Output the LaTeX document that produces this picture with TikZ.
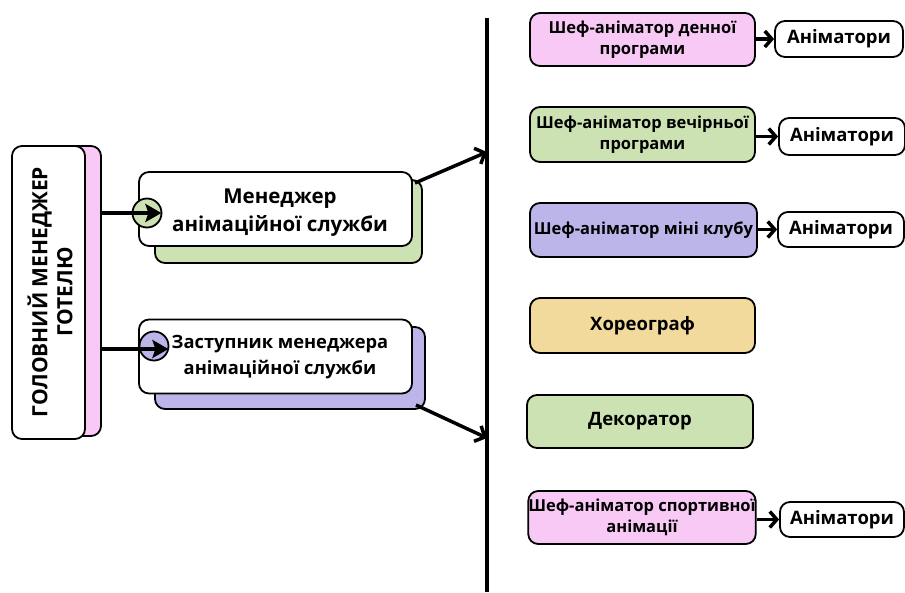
\documentclass[tikz,border=0pt]{standalone}
\usepackage{fontspec}
\setmainfont{Open Sans}[BoldFont={Open Sans Bold}]
\usetikzlibrary{arrows.meta,calc}
\definecolor{pinkc}{HTML}{F9C9F6}
\definecolor{greenc}{HTML}{CDE2B2}
\definecolor{purplec}{HTML}{BCB5E9}
\definecolor{yellowc}{HTML}{F1DA9B}
\tikzset{
  box/.style={draw=black, line width=1.8pt, rounded corners=10pt, inner sep=0pt, align=center, font=\bfseries},
  sbox/.style={box, font=\bfseries\fontsize{16.5}{21}\selectfont},
  abox/.style={box, fill=white, font=\bfseries\fontsize{18.5}{22}\selectfont},
  dot/.style={circle, draw=black, line width=1.8pt, minimum size=29pt, inner sep=0pt},
  arr/.style={line width=3.5pt, -{Stealth[length=16pt,width=18pt,inset=3pt]}},
  darr/.style={line width=3.5pt, -{Straight Barb[length=8pt,width=17pt]}},
  sarr/.style={line width=3.5pt, -{Straight Barb[length=7pt,width=16pt]}},
}
\begin{document}
\begin{tikzpicture}[x=1pt,y=-1pt]
\useasboundingbox (0,0) rectangle (905,592);
% left main box
\node[box, fill=pinkc, minimum width=71pt, minimum height=290pt] (mainsh) at (65.5,291) {};
\node[box, fill=white, minimum width=73pt, minimum height=293pt] (main) at (48.5,292.5) {};
\node[rotate=90, align=center, font=\bfseries\fontsize{21}{25}\selectfont] (maintxt) at (50,292) {ГОЛОВНИЙ МЕНЕДЖЕР\\ГОТЕЛЮ};
% manager
\node[box, fill=greenc, minimum width=267pt, minimum height=83pt] (mgrsh) at (288.5,221.5) {};
\node[box, fill=white, minimum width=273pt, minimum height=74pt] (mgr) at (275.5,209) {};
\node[font=\bfseries\fontsize{20.5}{28}\selectfont, align=center] (mgrtxt) at (280,213) {Менеджер\\анімаційної служби};
\node[dot, fill=greenc] (mc) at (147,213) {};
% deputy
\node[box, fill=purplec, minimum width=270pt, minimum height=82pt] (depsh) at (290,368) {};
\node[box, fill=white, minimum width=273pt, minimum height=74pt] (dep) at (275.5,356.5) {};
\node[font=\bfseries\fontsize{18.3}{26}\selectfont, align=center] (deptxt) at (280,357) {Заступник менеджера\\анімаційної служби};
\node[dot, fill=purplec] (pc) at (154,346) {};
% arrows from main
\draw[arr] (mainsh.east |- mc.center) -- ($(mc.east)+(-1,0)$);
\draw[arr] (mainsh.east |- 0,349) coordinate (ps) -- ($(ps -| pc.east)+(-1,0)$);
% vertical line
\coordinate (vt) at (487,18);
\coordinate (vb) at (487,592);
\draw[line width=3.5pt] (vt) -- (vb);
\coordinate (v1) at (487,152);
\coordinate (v2) at (487,438);
\coordinate (m1) at (415,183);
\coordinate (m2) at (416,405);
\draw[darr] (m1) -- (v1);
\draw[darr] (m2) -- (v2);
% right boxes
\node[sbox, fill=pinkc, minimum width=225pt, minimum height=53pt] (d1) at (642.5,39.5) {Шеф-аніматор денної\\програми};
\node[sbox, fill=greenc, minimum width=225pt, minimum height=55pt] (d2) at (642.5,134.5) {Шеф-аніматор вечірньої\\програми};
\node[sbox, fill=purplec, minimum width=227pt, minimum height=54pt] (d3) at (643.5,230) {Шеф-аніматор міні клубу};
\node[box, fill=yellowc, font=\bfseries\fontsize{18.5}{22}\selectfont, minimum width=225pt, minimum height=55pt] (d4) at (642.5,325.5) {Хореограф};
\node[box, fill=greenc, font=\bfseries\fontsize{18.5}{22}\selectfont, minimum width=226pt, minimum height=53pt] (d5) at (640,421.5) {Декоратор};
\node[sbox, fill=pinkc, minimum width=226pt, minimum height=53pt] (d6) at (642,517.5) {Шеф-аніматор спортивної\\анімації};
\node[abox, minimum width=128pt, minimum height=36pt] (a1) at (839,39) {Аніматори};
\node[abox, minimum width=126pt, minimum height=37pt] (a2) at (842,136.5) {Аніматори};
\node[abox, minimum width=126pt, minimum height=35pt] (a3) at (841,229.5) {Аніматори};
\node[abox, minimum width=124pt, minimum height=35pt] (a4) at (842,519.5) {Аніматори};
\draw[sarr] (d1.east |- a1.west) -- (a1.west);
\draw[sarr] (d2.east |- a2.west) -- (a2.west);
\draw[sarr] (d3.east |- a3.west) -- (a3.west);
\draw[sarr] (d6.east |- a4.west) -- (a4.west);
\end{tikzpicture}
\end{document}
